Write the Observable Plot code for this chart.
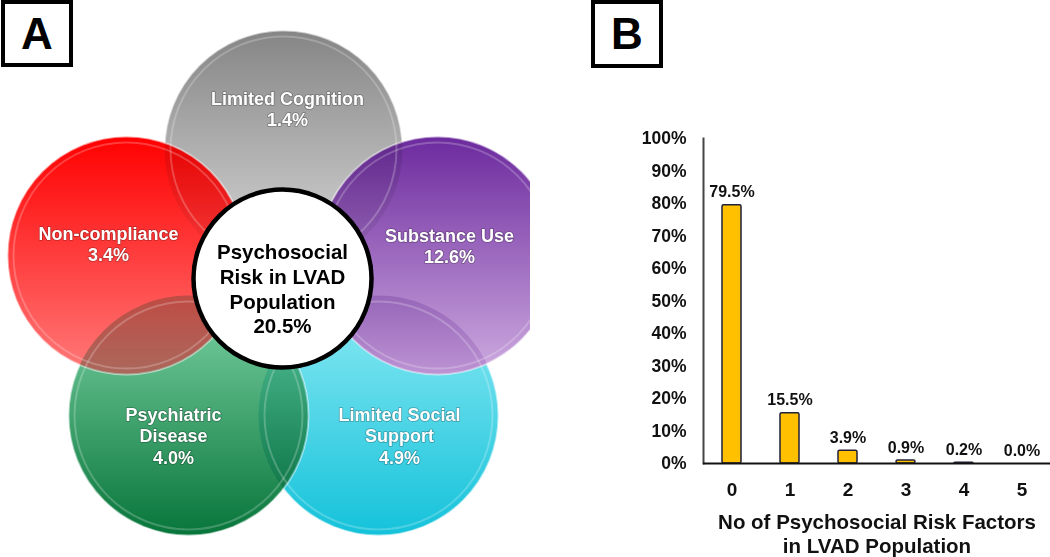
<!DOCTYPE html>
<html>
<head>
<meta charset="utf-8">
<script src="https://cdn.jsdelivr.net/npm/d3@7"></script>
<script src="https://cdn.jsdelivr.net/npm/@observablehq/plot@0.6"></script>
<style>
  html, body { margin: 0; padding: 0; background: #fff; }
  #fig { position: relative; width: 1050px; height: 557px; overflow: hidden; font-family: "Liberation Sans", Arial, sans-serif; }
  .panel { position: absolute; top: 0; }
  .tag { position: absolute; top: 0; box-sizing: border-box; border: 4px solid #000; background: #fff;
         font-weight: bold; font-size: 44px; line-height: 1; display: flex; align-items: center; justify-content: center; color: #000; }
</style>
</head>
<body>
<div id="fig">
  <svg width="0" height="0" style="position:absolute">
    <defs>
      <linearGradient id="g-gray" x1="0" y1="0" x2="0" y2="1">
        <stop offset="0" stop-color="#858585"/><stop offset="1" stop-color="#dadada"/>
      </linearGradient>
      <linearGradient id="g-red" x1="0" y1="0" x2="0" y2="1">
        <stop offset="0" stop-color="#ff0000"/><stop offset="1" stop-color="#ff7a7a"/>
      </linearGradient>
      <linearGradient id="g-purple" x1="0" y1="0" x2="0" y2="1">
        <stop offset="0" stop-color="#6c2a9e"/><stop offset="1" stop-color="#cdaadf"/>
      </linearGradient>
      <linearGradient id="g-green" x1="0" y1="0" x2="0" y2="1">
        <stop offset="0" stop-color="#7ed4a6"/><stop offset="1" stop-color="#07753a"/>
      </linearGradient>
      <linearGradient id="g-cyan" x1="0" y1="0" x2="0" y2="1">
        <stop offset="0" stop-color="#8eeaf4"/><stop offset="1" stop-color="#14c2da"/>
      </linearGradient>
    </defs>
  </svg>
  <div id="panelA" class="panel" style="left:0;width:530px;height:557px"></div>
  <div id="panelB" class="panel" style="left:530px;width:520px;height:557px"></div>
  <div class="tag" style="left:1px;width:72px;height:67px">A</div>
  <div class="tag" style="left:591px;width:72px;height:68px">B</div>
</div>
<script>
// ---------- DATA ----------
// Panel A: psychosocial risk factors (drawing order: back to front)
const riskFactors = ["Limited Cognition", "Substance Use", "Limited Social\nSupport", "Psychiatric\nDisease", "Non-compliance"];
const riskPercents = [1.4, 12.6, 4.9, 4.0, 3.4];
const riskKeys = ["gray", "purple", "cyan", "green", "red"];
const centerLabel = "Psychosocial\nRisk in LVAD\nPopulation";
const centerPercent = 20.5;

// Panel B: number of risk factors
const factorCounts = ["0", "1", "2", "3", "4", "5"];
const factorShares = [79.5, 15.5, 3.9, 0.9, 0.2, 0.0];
const yTicks = [0, 10, 20, 30, 40, 50, 60, 70, 80, 90, 100];
const xTitle = "No of Psychosocial Risk Factors\nin LVAD Population";

// ---------- LAYOUT (diagram geometry, px) ----------
const vennLayout = [
  {cx: 283, cy: 149, r: 119, lx: 287, ly: 108},
  {cx: 437, cy: 255, r: 119, lx: 449, ly: 245},
  {cx: 378, cy: 415, r: 120, lx: 399, ly: 435},
  {cx: 188, cy: 415, r: 120, lx: 173, ly: 435},
  {cx: 126, cy: 255, r: 119, lx: 108, ly: 243}
];
const centerLayout = {cx: 282, cy: 278, r: 89, lx: 282, ly: 288};
// overlapping pairs: [lower circle, upper circle, blend strength]
const overlapPairs = [[0, 1, 0.35], [0, 4, 0.3], [1, 2, 0.4], [2, 3, 0.5], [3, 4, 0.5]];

const font = '"Liberation Sans", Arial, sans-serif';

// ---------- PANEL A ----------
const circles = riskFactors.map((name, i) => ({
  name, pct: riskPercents[i], fill: `url(#g-${riskKeys[i]})`, ...vennLayout[i]
}));
const center = [{name: centerLabel, pct: centerPercent, ...centerLayout}];
const overlaps = overlapPairs.map(([lo, hi, k]) => ({...circles[lo], top: circles[hi], k}));

const [pv0, pv1, pv2] = String(Plot.version || "0.6.0").split(".").map(Number);
const hasRender = pv0 > 0 || pv1 > 6 || (pv1 === 6 && pv2 >= 10);

const marksA = [
  Plot.dot(circles, {x: "cx", y: "cy", r: "r", fill: "fill", stroke: "white", strokeOpacity: 0.55, strokeWidth: 2})
];
if (hasRender) {
  marksA.push(Plot.dot(overlaps, {
    x: "cx", y: "cy", r: "r", fill: "fill",
    render(index, scales, values, dimensions, context, next) {
      const g = next(index, scales, values, dimensions, context);
      const defs = d3.create("svg:defs");
      d3.select(g).selectAll("circle").each(function(_, k) {
        const d = overlaps[index[k]];
        const id = "ovl-clip-" + index[k];
        defs.append("clipPath").attr("id", id).append("circle")
          .attr("cx", scales.x(d.top.cx)).attr("cy", scales.y(d.top.cy)).attr("r", d.top.r);
        d3.select(this).attr("clip-path", `url(#${id})`)
          .style("mix-blend-mode", "multiply").attr("opacity", d.k);
      });
      g.insertBefore(defs.node(), g.firstChild);
      return g;
    }
  }));
}
marksA.push(
  Plot.dot(circles, {x: "cx", y: "cy", r: d => d.r - 6, fill: "none", stroke: "white", strokeOpacity: 0.22, strokeWidth: 2}),
  Plot.text(circles, {
    x: "lx", y: "ly", text: d => `${d.name}\n${d.pct.toFixed(1)}%`,
    fill: "white", stroke: "rgba(0,0,0,0.28)", strokeWidth: 1.6,
    fontSize: 18, fontWeight: "bold", lineHeight: 1.2
  }),
  Plot.dot(center, {x: "cx", y: "cy", r: "r", fill: "white", stroke: "black", strokeWidth: 4.5}),
  Plot.text(center, {
    x: "lx", y: "ly", text: d => `${d.name}\n${d.pct.toFixed(1)}%`,
    fill: "black", fontSize: 20.5, fontWeight: "bold", lineHeight: 1.2
  })
);

const plotA = Plot.plot({
  width: 530, height: 557, margin: 0,
  x: {domain: [0, 530], range: [0, 530], axis: null},
  y: {domain: [0, 557], range: [0, 557], axis: null},
  r: {type: "identity"},
  color: {type: "identity"},
  style: {fontFamily: font, background: "transparent", overflow: "hidden"},
  marks: marksA
});
document.getElementById("panelA").append(plotA);

// ---------- PANEL B ----------
const bars = factorCounts.map((c, i) => ({count: c, share: factorShares[i]}));

const plotB = Plot.plot({
  width: 520, height: 557,
  marginLeft: 173, marginRight: 0, marginTop: 138, marginBottom: 94,
  x: {type: "band", domain: factorCounts, paddingInner: 0.67, paddingOuter: 0.32},
  y: {domain: [0, 100]},
  style: {fontFamily: font, background: "transparent", color: "#111"},
  marks: [
    Plot.frame({anchor: "left", stroke: "#444", strokeWidth: 2}),
    Plot.barY(bars, {x: "count", y: "share", fill: "#FFC000", stroke: "#202038", strokeWidth: 1.5, rx: 1.5}),
    Plot.ruleY([0], {stroke: "#111", strokeWidth: 2}),
    Plot.text(bars, {x: "count", y: "share", text: d => d.share.toFixed(1) + "%", dy: -13,
      fontSize: 16, fontWeight: "bold", fill: "#111"}),
    Plot.axisY({ticks: yTicks, tickFormat: d => d + "%", tickSize: 0, tickPadding: 17,
      fontSize: 17.5, fontWeight: "bold", label: null}),
    Plot.axisX({tickSize: 0, tickPadding: 19, fontSize: 19, fontWeight: "bold", label: null}),
    Plot.text([xTitle], {frameAnchor: "bottom", lineAnchor: "top", dy: 48,
      fontSize: 20.5, fontWeight: "bold", lineHeight: 1.17, fill: "#111"})
  ]
});
document.getElementById("panelB").append(plotB);
</script>
</body>
</html>
